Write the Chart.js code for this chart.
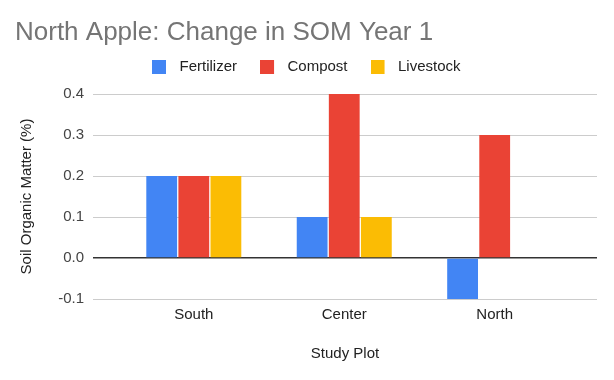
<!DOCTYPE html>
<html>
<head>
<meta charset="utf-8">
<script src="https://cdn.jsdelivr.net/npm/chart.js@4.4.1/dist/chart.umd.min.js"></script>
<style>
  html, body { margin: 0; padding: 0; background: #fff; }
  #wrap { width: 614px; height: 380px; }
</style>
</head>
<body>
<div id="wrap"><canvas id="c" width="614" height="380"></canvas></div>
<script>
const categories = ['South', 'Center', 'North'];
const fertilizer = [0.2, 0.1, -0.1];
const compost = [0.2, 0.4, 0.3];
const livestock = [0.2, 0.1, 0.0];
const yTicks = [-0.1, 0.0, 0.1, 0.2, 0.3, 0.4];

const FONT = '"Liberation Sans", Arial, sans-serif';
const toPoints = arr => arr.map((v, i) => ({ x: i, y: v }));

// legend swatch: 14px square on the left of a 20px-wide transparent image
function swatch(color) {
  const cv = document.createElement('canvas');
  cv.width = 20; cv.height = 14;
  const g = cv.getContext('2d');
  g.fillStyle = color;
  g.fillRect(0, 0, 14, 14);
  return cv;
}

const legendShift = {
  id: 'legendShift',
  afterLayout(chart) {
    const lg = chart.legend;
    if (!lg) return;
    const dx = 114, dy = -12.2;
    lg.left += dx; lg.right += dx;
    lg.top += dy; lg.bottom += dy;
  }
};

new Chart(document.getElementById('c'), {
  type: 'bar',
  data: {
    datasets: [
      { label: 'Fertilizer', data: toPoints(fertilizer), backgroundColor: '#4285F4' },
      { label: 'Compost', data: toPoints(compost), backgroundColor: '#EA4335' },
      { label: 'Livestock', data: toPoints(livestock), backgroundColor: '#FBBC04' }
    ]
  },
  options: {
    responsive: false,
    animation: false,
    categoryPercentage: 0.64,
    barPercentage: 0.96,
    layout: { padding: { left: 15, right: 17, top: 0, bottom: 0 } },
    plugins: {
      title: {
        display: true,
        text: 'North Apple: Change in SOM Year 1',
        align: 'start',
        color: '#757575',
        font: { family: FONT, size: 26, weight: 'normal' },
        padding: { top: 17, bottom: 0 }
      },
      legend: {
        display: true,
        position: 'top',
        align: 'start',
        maxHeight: 45.8,
        labels: {
          usePointStyle: true,
          pointStyleWidth: 20,
          boxHeight: 15,
          padding: 23,
          color: '#222',
          font: { family: FONT, size: 15 },
          generateLabels: chart => {
            const items = Chart.defaults.plugins.legend.labels.generateLabels(chart);
            items.forEach(it => { it.pointStyle = swatch(it.fillStyle); });
            return items;
          }
        }
      },
      tooltip: { enabled: false }
    },
    scales: {
      x: {
        type: 'linear',
        offset: false,
        min: -0.67,
        max: 2.68,
        afterBuildTicks: s => { s.ticks = categories.map((c, i) => ({ value: i })); },
        afterFit: s => { s.height = 81; },
        grid: { display: false, drawTicks: false, offset: false },
        border: { display: false },
        ticks: {
          padding: 7,
          color: '#222',
          font: { family: FONT, size: 15 },
          autoSkip: false,
          maxRotation: 0,
          callback: v => categories[v] ?? ''
        },
        title: {
          display: true,
          text: 'Study Plot',
          color: '#222',
          font: { family: FONT, size: 15 },
          padding: { top: 0, bottom: 17 }
        }
      },
      y: {
        min: -0.1,
        max: 0.4,
        afterBuildTicks: s => { s.ticks = yTicks.map(v => ({ value: v })); },
        afterFit: s => { s.width = 78; },
        grid: {
          drawTicks: false,
          color: c => (c.tick && Math.abs(c.tick.value) < 1e-9) ? '#333' : '#cccccc',
          lineWidth: c => (c.tick && Math.abs(c.tick.value) < 1e-9) ? 1.5 : 1
        },
        border: { display: false },
        ticks: {
          padding: 9,
          color: '#444',
          font: { family: FONT, size: 15 },
          callback: v => Number(v).toFixed(1)
        },
        title: {
          display: true,
          text: 'Soil Organic Matter (%)',
          color: '#222',
          font: { family: FONT, size: 15 },
          padding: { top: 3, bottom: 0 }
        }
      }
    }
  },
  plugins: [legendShift]
});
</script>
</body>
</html>
